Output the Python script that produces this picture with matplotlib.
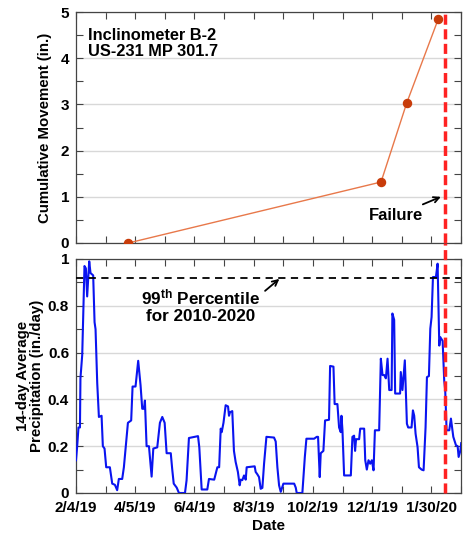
import numpy as np
import matplotlib
matplotlib.use("Agg")
import matplotlib.pyplot as plt
import matplotlib.dates as mdates
from matplotlib.ticker import FixedLocator, MultipleLocator, FuncFormatter

plt.rcParams['font.family'] = ['Liberation Sans', 'DejaVu Sans']
plt.rcParams['font.weight'] = 'bold'
plt.rcParams['mathtext.fontset'] = 'custom'
plt.rcParams['mathtext.rm'] = 'Liberation Sans:bold'
plt.rcParams['mathtext.it'] = 'Liberation Sans:bold'
plt.rcParams['mathtext.bf'] = 'Liberation Sans:bold'

# ---------------- data ----------------
start_date = np.datetime64('2019-02-04')
end_date = np.datetime64('2020-02-29')
failure_date = np.datetime64('2020-02-13')

# inclinometer readings
move_dates = ['2019-03-29', '2019-12-10', '2020-01-05', '2020-02-06']
move_values = [0.0, 1.32, 3.03, 4.85]

# 14-day average precipitation (days after 2/4/19, in./day)
precip_days = [0, 1.2, 2.5, 4, 4.5, 6.3, 8.6, 10, 11.3, 13.4, 14.7, 17.4, 18.8, 19.8,
               21.5, 23.2, 25.9, 27.2, 28.9, 30.6, 34.3, 36.7, 39.4, 41.7, 43.4, 46.8,
               48.5, 52.6, 55.9, 57.3, 60.3, 63.0, 65.4, 67.1, 68.8, 69.8, 71.5, 73.9,
               76.6, 78.3, 82.3, 85.0, 87.4, 89.8, 91.8, 96, 97.5, 99, 102, 104.3, 110.4,
               112, 114.4, 123.6, 124.9, 127.3, 133, 134.7, 140, 143.2, 145, 146.6, 147.6,
               149.4, 151.6, 154, 155, 156, 158.3, 160, 161.7, 164, 165.8, 166.8, 168.5,
               170.2, 171.9, 172.9, 181, 182, 183.7, 185.4, 187.1, 188.8, 190.5, 192.9,
               200.6, 202.3, 204, 205.7, 207.4, 210.1, 221, 222.6, 223.6, 229.3, 231.8,
               233.4, 241.2, 243.9, 245.2, 246.9, 247.9, 250.6, 252.3, 256.3, 257.4, 260.8,
               262, 264.8, 266.5, 268.2, 268.9, 269.9, 271.6, 278.4, 280, 281.7, 282.7,
               283.7, 286.8, 287.9, 291.9, 293, 294.6, 296.3, 298, 299.7, 301.4, 302.8,
               307.1, 308.8, 310.5, 312.2, 313.9, 315.6, 317.3, 319.7, 320.5, 322.3, 323.3,
               328.3, 329, 330.7, 331.7, 333.1, 335.2, 336.5, 339.9, 341.3, 342.6, 344, 346,
               347.4, 350.1, 352.1, 354.1, 355.5, 357.5, 358.9, 360.2, 361.6, 364.6, 366.3,
               368, 369, 371.4, 373, 374, 375.4, 378.1, 379.8, 382.2, 384.9, 386.6, 387.6,
               389.3, 390.2]
precip_values = [0.14, 0.20, 0.28, 0.28, 0.49, 0.59, 0.97, 0.96, 0.84, 0.99, 0.94, 0.93,
                 0.73, 0.70, 0.47, 0.325, 0.33, 0.20, 0.19, 0.11, 0.11, 0.04, 0.035, 0.012,
                 0.06, 0.06, 0.11, 0.30, 0.31, 0.455, 0.455, 0.565, 0.46, 0.36, 0.36, 0.395,
                 0.20, 0.20, 0.07, 0.19, 0.195, 0.30, 0.325, 0.30, 0.17, 0.17, 0.10, 0.04,
                 0.023, 0.0, 0.0, 0.054, 0.235, 0.243, 0.195, 0.015, 0.015, 0.06, 0.057,
                 0.11, 0.11, 0.275, 0.26, 0.30, 0.375, 0.37, 0.33, 0.345, 0.35, 0.18, 0.133,
                 0.09, 0.033, 0.057, 0.055, 0.075, 0.057, 0.11, 0.114, 0.09, 0.08, 0.068,
                 0.018, 0.022, 0.125, 0.24, 0.237, 0.22, 0.11, 0.033, 0.005, 0.04, 0.04,
                 0.023, 0.0, 0.0, 0.154, 0.232, 0.232, 0.24, 0.24, 0.068, 0.17, 0.18, 0.31,
                 0.313, 0.543, 0.54, 0.38, 0.38, 0.28, 0.26, 0.33, 0.27, 0.075, 0.075, 0.24,
                 0.245, 0.18, 0.23, 0.23, 0.275, 0.275, 0.14, 0.10, 0.14, 0.125, 0.14, 0.097,
                 0.268, 0.268, 0.574, 0.504, 0.504, 0.49, 0.574, 0.44, 0.44, 0.767, 0.74,
                 0.425, 0.425, 0.517, 0.44, 0.495, 0.567, 0.296, 0.28, 0.28, 0.353, 0.33,
                 0.253, 0.196, 0.11, 0.10, 0.097, 0.28, 0.495, 0.50, 0.702, 0.752, 0.923,
                 0.923, 0.98, 0.63, 0.666, 0.65, 0.48, 0.44, 0.268, 0.268, 0.318, 0.24,
                 0.204, 0.20, 0.154, 0.18, 0.213]
percentile_99 = 0.92

tick_step_days = 30
label_every = 2

# ---------------- figure ----------------
fig = plt.figure(figsize=(4.66, 5.39), dpi=100)
ax1 = fig.add_axes([76/466, 1-243/539, 385/466, 231/539])
ax2 = fig.add_axes([76/466, 1-493/539, 385/466, 234/539])

move_x = np.array(move_dates, dtype='datetime64[D]')
precip_x = start_date + (np.array(precip_days) * 24 * 3600).astype('timedelta64[s]')

tick_dates = [start_date + np.timedelta64(tick_step_days * i, 'D') for i in range(14)]
tick_nums = [mdates.date2num(d.astype('datetime64[s]').astype(object)) for d in tick_dates]

def date_label(d):
    dd = d.astype(object)
    return f"{dd.month}/{dd.day}/{dd.year % 100}"

spine_col = '#444444'
grid_col = '#d8d8d8'

for ax in (ax1, ax2):
    ax.set_xlim(start_date, end_date)
    ax.xaxis.set_major_locator(FixedLocator(tick_nums))
    for s in ax.spines.values():
        s.set_color(spine_col)
        s.set_linewidth(0.9)
    ax.tick_params(which='both', direction='in', top=True, right=True,
                   length=5, width=0.8, color=spine_col, labelsize=11, pad=5)
    ax.grid(True, axis='y', color=grid_col, linewidth=1.0, zorder=0)
    ax.set_axisbelow(True)
ax2.tick_params(axis='x', which='both', pad=6)

# top panel
ax1.plot(move_x, move_values, color='#e8784a', linewidth=1.0, zorder=3)
ax1.plot(move_x, move_values, linestyle='none', marker='o', markersize=5.8,
         color='#c83c0a', zorder=4)
ax1.set_ylim(0, 5)
ax1.yaxis.set_major_locator(MultipleLocator(1))
ax1.yaxis.set_minor_locator(MultipleLocator(0.5))
ax1.set_xticklabels([])
ax1.set_ylabel('Cumulative Movement (in.)', fontsize=10.8, fontweight='bold', labelpad=6)
ax1.text(0.031, 0.93, 'Inclinometer B-2\nUS-231 MP 301.7', transform=ax1.transAxes,
         ha='left', va='top', fontsize=11.8, fontweight='bold', linespacing=1.1)

# failure line
ax1.axvline(failure_date, color='#ff2222', linewidth=2.5, dashes=(2.9, 1.3), zorder=5)
ax2.axvline(failure_date, ymin=0, ymax=1.07, clip_on=False, color='#ff2222',
            linewidth=2.5, dashes=(2.9, 1.3), zorder=5)

d0 = start_date.astype('datetime64[s]')
def day(n):
    return d0 + np.timedelta64(int(n * 86400), 's')

ax1.annotate('Failure', xy=(day(369.6), 1.0), xytext=(day(324), 0.59),
             ha='center', va='center', fontsize=12, fontweight='bold',
             arrowprops=dict(arrowstyle='->', color='black', lw=1.3,
                             shrinkA=2, shrinkB=0, mutation_scale=10))

# bottom panel
ax2.plot(precip_x, precip_values, color='#0a14f0', linewidth=1.5, zorder=3)
ax2.axhline(percentile_99, color='black', linewidth=1.3, dashes=(4, 3), zorder=4)
ax2.set_ylim(0, 1)
ax2.yaxis.set_major_locator(MultipleLocator(0.2))
ax2.yaxis.set_minor_locator(MultipleLocator(0.1))
ax2.yaxis.set_major_formatter(FuncFormatter(lambda v, p: '0' if abs(v) < 1e-9 else ('1' if abs(v-1) < 1e-9 else f'{v:.1f}')))
ax2.set_xticklabels([date_label(d) if i % label_every == 0 else '' for i, d in enumerate(tick_dates)])
ax2.set_xlabel('Date', fontsize=11, fontweight='bold', labelpad=3)
ax2.set_ylabel('14-day Average\nPrecipitation (in./day)', fontsize=10.8,
               fontweight='bold', labelpad=3, linespacing=0.95)
ax2.annotate(r'99$^{\mathbf{th}}$ Percentile' + '\nfor 2010-2020', xy=(day(206), 0.915),
             xytext=(day(126.3), 0.80), ha='center', va='center', fontsize=12.3,
             fontweight='bold', linespacing=1.1,
             arrowprops=dict(arrowstyle='->', color='black', lw=1.3,
                             shrinkA=2, shrinkB=0, mutation_scale=10,
                             relpos=(1.0, 0.8)))

for lab in ax1.get_yticklabels() + ax2.get_yticklabels() + ax2.get_xticklabels():
    lab.set_fontweight('bold')

fig.savefig('out.png', dpi=100)
